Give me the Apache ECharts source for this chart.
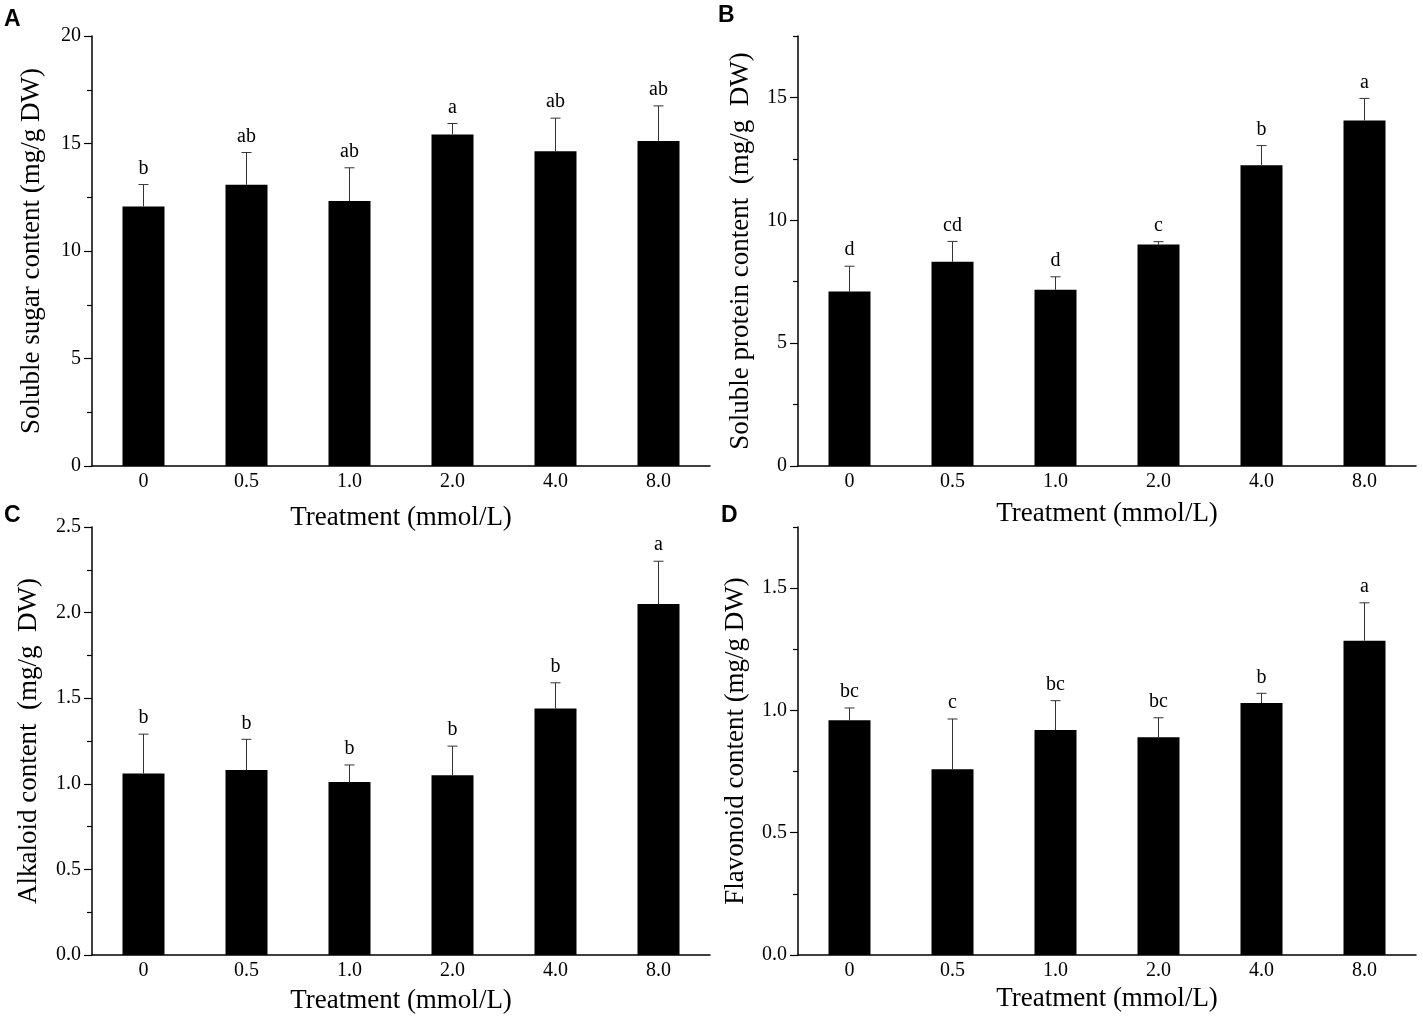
<!DOCTYPE html>
<html>
<head>
<meta charset="utf-8">
<script src="https://cdn.jsdelivr.net/npm/echarts@6/dist/echarts.min.js"></script>
<style>
  html, body { margin: 0; padding: 0; background: #fff; }
  #main { width: 1423px; height: 1023px; }
</style>
</head>
<body>
<div id="main"></div>
<script>
// treatments (mmol/L)
var categories = ['0', '0.5', '1.0', '2.0', '4.0', '8.0'];

// A: soluble sugar
var sugarMean = [12.07, 13.08, 12.32, 15.42, 14.64, 15.12];
var sugarErr = [1.02, 1.50, 1.55, 0.51, 1.54, 1.63];
var sugarLetters = ['b', 'ab', 'ab', 'a', 'ab', 'ab'];
var sugarMajor = [0, 5, 10, 15, 20];
var sugarMinor = [2.5, 7.5, 12.5, 17.5];

// B: soluble protein
var proteinMean = [7.10, 8.31, 7.17, 9.01, 12.24, 14.06];
var proteinErr = [1.03, 0.83, 0.53, 0.12, 0.80, 0.90];
var proteinLetters = ['d', 'cd', 'd', 'c', 'b', 'a'];
var proteinMajor = [0, 5, 10, 15];
var proteinMinor = [2.5, 7.5, 12.5, 17.5];

// C: alkaloid
var alkaloidMean = [1.06, 1.08, 1.01, 1.05, 1.44, 2.05];
var alkaloidErr = [0.23, 0.18, 0.10, 0.17, 0.15, 0.25];
var alkaloidLetters = ['b', 'b', 'b', 'b', 'b', 'a'];
var alkaloidMajor = [0, 0.5, 1.0, 1.5, 2.0, 2.5];
var alkaloidMinor = [0.25, 0.75, 1.25, 1.75, 2.25];

// D: flavonoid
var flavMean = [0.96, 0.76, 0.92, 0.89, 1.03, 1.285];
var flavErr = [0.05, 0.205, 0.12, 0.08, 0.04, 0.155];
var flavLetters = ['bc', 'c', 'bc', 'bc', 'b', 'a'];
var flavMajor = [0, 0.5, 1.0, 1.5];
var flavMinor = [0.25, 0.75, 1.25, 1.75];

var serif = 'Liberation Serif';

var panels = [
  { mean: sugarMean, err: sugarErr, letters: sugarLetters, major: sugarMajor, minor: sugarMinor,
    max: 20, digits: 0, yName: 'Soluble sugar content (mg/g DW)', grid: { left: 92, top: 36, width: 618, height: 430 },
    yGap: 47, xGap: 38 },
  { mean: proteinMean, err: proteinErr, letters: proteinLetters, major: proteinMajor, minor: proteinMinor,
    max: 17.5, digits: 0, yName: 'Soluble protein content  (mg/g  DW)', grid: { left: 798, top: 36, width: 618, height: 430 },
    yGap: 44, xGap: 34 },
  { mean: alkaloidMean, err: alkaloidErr, letters: alkaloidLetters, major: alkaloidMajor, minor: alkaloidMinor,
    max: 2.5, digits: 1, yName: 'Alkaloid content  (mg/g  DW)', grid: { left: 92, top: 527, width: 618, height: 428 },
    yGap: 50, xGap: 32 },
  { mean: flavMean, err: flavErr, letters: flavLetters, major: flavMajor, minor: flavMinor,
    max: 1.75, digits: 1, yName: 'Flavonoid content (mg/g DW)', grid: { left: 798, top: 527, width: 618, height: 428 },
    yGap: 49, xGap: 30 }
];

function errRenderer(letters) {
  return function (params, api) {
    var i = api.value(0);
    var m = api.value(1);
    var s = api.value(2);
    var base = api.coord([i, m]);
    var top = api.coord([i, m + s]);
    var st = { stroke: '#333', lineWidth: 1 };
    return {
      type: 'group',
      children: [
        { type: 'line', shape: { x1: base[0], y1: base[1], x2: top[0], y2: top[1] }, style: st },
        { type: 'line', shape: { x1: top[0] - 5, y1: top[1], x2: top[0] + 5, y2: top[1] }, style: st },
        { type: 'text', style: { text: letters[params.dataIndex], x: top[0], y: top[1] - 6,
          align: 'center', verticalAlign: 'bottom', fill: '#000', font: '20px "' + serif + '"' } }
      ]
    };
  };
}

var grids = [], xAxes = [], yAxes = [], series = [];
panels.forEach(function (p, k) {
  grids.push(p.grid);
  xAxes.push({
    type: 'category', gridIndex: k, data: categories,
    axisLine: { lineStyle: { color: '#000', width: 1.5 } },
    axisTick: { show: false },
    axisLabel: { color: '#000', fontFamily: serif, fontSize: 20, margin: 6 },
    name: 'Treatment (mmol/L)', nameLocation: 'middle', nameGap: p.xGap,
    nameTextStyle: { color: '#000', fontFamily: serif, fontSize: 27 }
  });
  yAxes.push({
    type: 'value', gridIndex: k, min: 0, max: p.max,
    splitLine: { show: false },
    axisLine: { show: true, lineStyle: { color: '#000', width: 1.5 } },
    axisTick: { show: true, length: 8, customValues: p.major, lineStyle: { color: '#000', width: 1.2 } },
    axisLabel: { color: '#000', fontFamily: serif, fontSize: 20, margin: 11, customValues: p.major,
      formatter: function (v) { return v.toFixed(p.digits); } },
    name: p.yName, nameLocation: 'middle', nameRotate: 90, nameGap: p.yGap,
    nameTextStyle: { color: '#000', fontFamily: serif, fontSize: 27 }
  });
  yAxes.push({
    type: 'value', gridIndex: k, min: 0, max: p.max, position: 'left',
    splitLine: { show: false },
    axisLine: { show: false },
    axisTick: { show: true, length: 5, customValues: p.minor, lineStyle: { color: '#000', width: 1.2 } },
    axisLabel: { show: false }
  });
  series.push({
    type: 'bar', xAxisIndex: k, yAxisIndex: k * 2, barWidth: 42,
    itemStyle: { color: '#000' }, data: p.mean, silent: true, animation: false
  });
  series.push({
    type: 'custom', xAxisIndex: k, yAxisIndex: k * 2, renderItem: errRenderer(p.letters),
    data: p.mean.map(function (m, i) { return [i, m, p.err[i]]; }),
    silent: true, animation: false, z: 3
  });
});

var panelLabels = [
  { text: 'A', left: 4, top: 8 },
  { text: 'B', left: 718, top: 4 },
  { text: 'C', left: 4, top: 504 },
  { text: 'D', left: 721, top: 504 }
];

var chart = echarts.init(document.getElementById('main'), null, { renderer: 'canvas' });
chart.setOption({
  backgroundColor: '#fff',
  animation: false,
  grid: grids,
  xAxis: xAxes,
  yAxis: yAxes,
  series: series,
  graphic: panelLabels.map(function (l) {
    return { type: 'text', left: l.left, top: l.top,
      style: { text: l.text, fill: '#000', font: 'bold 23px "Liberation Sans"' } };
  })
});
</script>
</body>
</html>
